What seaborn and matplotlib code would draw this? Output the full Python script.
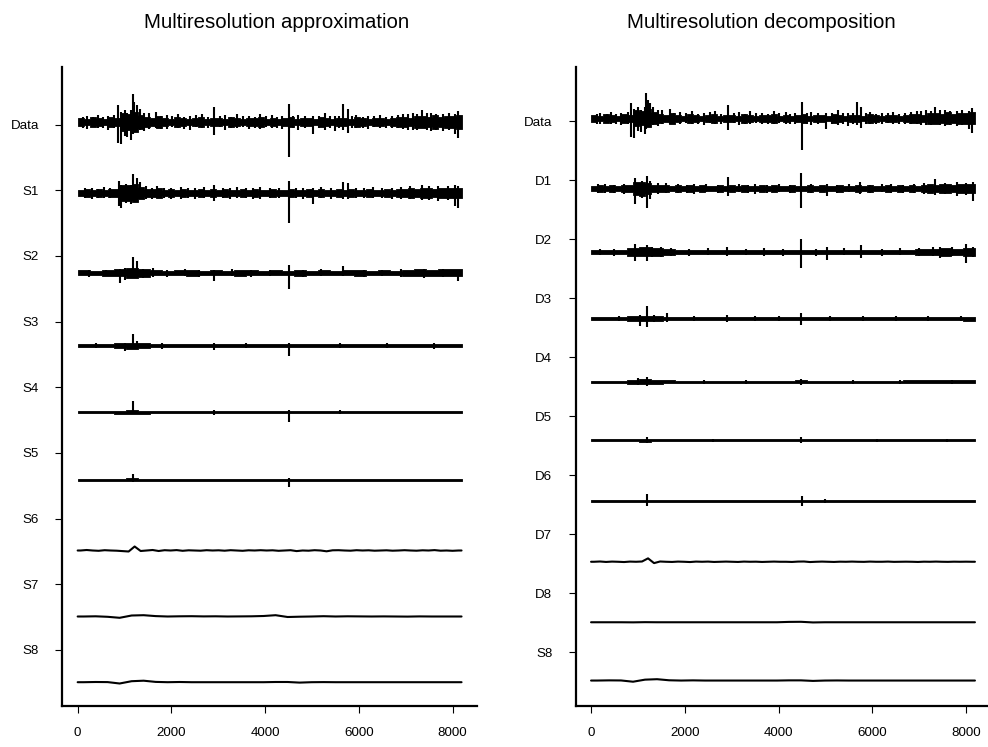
import numpy as np
import matplotlib
matplotlib.use("Agg")
import matplotlib.pyplot as plt
import seaborn as sns
import pandas as pd

sns.set_theme(style="ticks")
plt.rcParams['font.family'] = ['Liberation Sans', 'DejaVu Sans']

N_SAMPLES = 8192
X_TICKS = [0, 2000, 4000, 6000, 8000]

# ---- per-block half-widths of each noisy level (signal units) ----
DATA_HW = [4, 3, 5, 4, 3, 5, 4, 9, 8, 10, 7, 5, 4, 6,
           4, 3, 5, 4, 3, 4, 5, 3, 4, 4, 3, 5, 4, 3, 4, 4, 5, 3, 4, 3,
           4, 5, 3, 4, 4, 3, 5, 4, 3, 4, 4, 3, 5, 4, 3, 4, 4, 3, 4, 5,
           5, 4, 6, 6, 5, 7, 5, 6, 6, 7]
S1_HW = [3, 4, 3, 4, 3, 4, 4, 8, 8, 9, 6, 4, 4, 5,
         3, 4, 3, 4, 3, 3, 4, 3, 4, 3, 4, 3, 3, 4, 3, 4, 3, 3, 4, 3,
         3, 4, 3, 3, 4, 3, 4, 3, 3, 4, 3, 4, 3, 3, 4, 3, 3, 4, 3, 4,
         4, 5, 4, 5, 5, 4, 5, 5, 5, 5]
S2_HW = [2.5, 2, 3, 3.5, 5, 4, 2.5, 2, 2.5, 3, 2, 2.5, 2, 3, 2.5, 2,
         2.5, 2, 3, 2, 2.5, 2, 2.5, 3, 2, 2.5, 2, 3, 3.5, 3, 3.5, 3.5]
S3_HW = [1.5, 1.8, 1.5, 2.2, 3, 2.2, 1.5, 1.8, 1.5, 1.5, 1.8, 1.5, 1.8, 1.5, 1.5, 1.8,
         1.5, 1.8, 1.5, 1.5, 1.8, 1.5, 1.5, 1.8, 1.5, 1.8, 1.5, 1.5, 1.8, 1.5, 1.8, 1.8]
S4_HW = [1.1, 1.2, 1.1, 1.4, 2.0, 1.4, 1.1, 1.2, 1.1, 1.1, 1.2, 1.1, 1.2, 1.1, 1.1, 1.2,
         1.1, 1.2, 1.1, 1.1, 1.2, 1.1, 1.1, 1.2, 1.1, 1.2, 1.1, 1.1, 1.2, 1.1, 1.2, 1.2]
S5_HW = [0.9, 1.0, 0.9, 1.1, 1.5, 1.1, 0.9, 1.0, 0.9, 0.9, 1.0, 0.9, 1.0, 0.9, 0.9, 1.0,
         0.9, 1.1, 0.9, 0.9, 1.0, 0.9, 0.9, 1.0, 0.9, 1.0, 0.9, 0.9, 1.0, 0.9, 1.0, 1.0]
D1_HW = [3, 4, 3, 4, 3, 4, 4, 7, 8, 6, 4, 4, 4,
         3, 4, 3, 4, 3, 4, 3, 3, 4, 3, 4, 3, 4, 3, 3, 4, 3, 4, 3, 3,
         4, 3, 3, 4, 3, 4, 3, 3, 4, 3, 3, 4, 3, 4, 3, 3, 4, 3, 4, 3, 4, 3,
         4, 5, 4, 5, 5, 4, 5, 5, 5]
D2_HW = [2.5, 2, 2.5, 4, 5, 4, 3.5, 2.5, 2, 2.5, 2, 2.5, 2, 2.5, 2, 2.5,
         2, 2.5, 2, 2.5, 2, 2.5, 2, 2.5, 2, 2.5, 2, 3, 3.5, 4, 3.5, 4]
D3_HW = [1.5, 1.7, 1.5, 2.5, 3, 2.5, 2, 1.5, 1.7, 1.5, 1.5, 1.7, 1.5, 1.5, 1.7, 1.5,
         1.7, 1.5, 1.5, 1.7, 1.5, 1.5, 1.7, 1.5, 1.7, 1.5, 1.5, 2, 2, 2, 2, 2.2]
D4_HW = [1.2, 1.3, 1.2, 2.2, 2.6, 2.2, 1.5, 1.2, 1.3, 1.2, 1.2, 1.3, 1.2, 1.2, 1.3, 1.2,
         1.3, 1.5, 1.2, 1.3, 1.2, 1.2, 1.3, 1.2, 1.3, 1.2, 1.4, 1.4, 1.4, 1.5, 1.6, 1.6]
D5_HW = [0.9, 1.0, 0.9, 1.1, 1.6, 1.1, 0.9, 1.0, 0.9, 0.9, 1.0, 0.9, 1.0, 0.9, 0.9, 1.0,
         0.9, 1.3, 0.9, 0.9, 1.0, 0.9, 0.9, 1.0, 0.9, 1.0, 0.9, 0.9, 1.0, 1.0, 1.0, 1.0]
D6_HW = [0.7, 0.7, 0.7, 0.7, 1.0, 0.7, 0.7, 0.7, 0.7, 0.7, 0.7, 0.7, 0.7, 0.7, 0.7, 0.7,
         0.7, 0.8, 0.7, 0.7, 0.7, 0.7, 0.7, 0.7, 0.7, 0.7, 0.7, 0.7, 0.7, 0.7, 0.7, 0.7]

# ---- isolated excursions: (sample, height above, depth below) ----
DATA_SPIKES = [(120, 5, 6), (200, 6, 7), (330, 5, 5), (430, 7, 6), (540, 5, 6),
               (640, 6, 8), (780, 7, 6),
               (855, 17, 21), (927, 10, 22), (1000, 12, 14), (1060, 9, 15),
               (1141, 12, 18), (1175, 28, 12), (1210, 20, 10), (1260, 17, 9),
               (1330, 13, 8), (1420, 9, 9), (1520, 9, 7), (1675, 10, 6),
               (1780, 6, 7), (1900, 7, 7), (2020, 6, 5), (2150, 8, 6),
               (2280, 5, 7), (2400, 6, 8), (2530, 7, 5), (2650, 8, 6),
               (2780, 5, 6), (2920, 15, 13), (3040, 6, 5), (3150, 7, 8),
               (3280, 5, 6), (3400, 8, 6), (3520, 6, 5), (3650, 6, 7),
               (3780, 5, 6), (3900, 8, 7), (4020, 6, 5), (4150, 7, 6),
               (4250, 5, 6), (4350, 6, 7), (4500, 18, 35), (4600, 6, 6),
               (4700, 7, 8), (4850, 6, 6), (5015, 6, 12), (5140, 6, 6),
               (5270, 9, 8), (5380, 6, 6), (5485, 6, 9), (5580, 6, 6),
               (5670, 18, 8), (5770, 13, 11), (5860, 6, 6), (5950, 7, 6),
               (6080, 5, 6), (6200, 6, 7), (6330, 6, 5), (6450, 7, 6),
               (6580, 5, 6), (6700, 6, 6), (6830, 7, 6), (6950, 8, 7),
               (7050, 8, 8), (7150, 9, 8), (7250, 8, 8), (7340, 12, 6),
               (7450, 9, 8), (7550, 9, 9), (7650, 8, 8), (7800, 8, 9),
               (7920, 9, 8), (8060, 8, 12), (8120, 11, 16)]
S1_SPIKES = [(150, 5, 5), (300, 5, 6), (440, 4, 5), (560, 6, 5), (700, 5, 5),
             (890, 12, 13), (927, 8, 15), (1030, 9, 10), (1141, 8, 11),
             (1175, 19, 8), (1260, 15, 7), (1330, 11, 6), (1450, 7, 6),
             (1580, 5, 6), (1700, 7, 5), (1850, 5, 5), (2000, 5, 6),
             (2200, 6, 6), (2350, 5, 5), (2500, 5, 6), (2700, 6, 5),
             (2920, 8, 8), (3100, 5, 5), (3250, 5, 6), (3400, 6, 5),
             (3600, 5, 5), (3750, 5, 6), (3900, 6, 6), (4100, 5, 5),
             (4300, 5, 5), (4500, 12, 30), (4650, 5, 5), (4800, 5, 6),
             (5015, 5, 11), (5200, 6, 5), (5400, 5, 6), (5670, 11, 6),
             (5770, 10, 6), (5950, 5, 5), (6100, 5, 5), (6300, 6, 5),
             (6500, 5, 5), (6700, 5, 6), (6900, 6, 6), (7100, 7, 6),
             (7350, 8, 7), (7500, 7, 7), (7700, 7, 8), (7900, 7, 7),
             (8060, 8, 13), (8120, 7, 15)]
S2_SPIKES = [(250, 3, 4), (600, 3, 3), (900, 4, 10), (1000, 5, 7),
             (1175, 16, 5), (1260, 12, 4), (1400, 4, 5), (1600, 5, 4),
             (1900, 3, 4), (2300, 4, 3), (2600, 3, 4), (2920, 3, 8),
             (3300, 4, 3), (3700, 3, 4), (4100, 3, 3), (4500, 8, 16),
             (4800, 3, 4), (5200, 4, 3), (5670, 7, 3), (6100, 3, 4),
             (6500, 3, 3), (6900, 4, 4), (7400, 4, 5), (7800, 4, 4),
             (8120, 3, 8)]
S3_SPIKES = [(400, 2.5, 2.5), (1000, 3, 5), (1175, 12, 3), (1260, 5, 3),
             (1800, 2.5, 3), (2920, 3, 4), (3600, 2.5, 2.5), (4500, 3, 10),
             (5600, 3, 2.5), (6600, 2.5, 2.5), (7600, 3, 3)]
S4_SPIKES = [(1175, 11, 2), (2900, 2, 2.5), (4500, 2, 10), (5600, 2.5, 2)]
S5_SPIKES = [(1175, 6, 2), (4500, 2, 7)]
D1_SPIKES = [(150, 5, 5), (300, 5, 5), (500, 4, 5), (700, 5, 6),
             (938, 12, 17), (1080, 9, 10), (1187, 14, 21), (1260, 9, 11),
             (1420, 6, 6), (1600, 6, 5), (1850, 5, 5), (2050, 4, 5),
             (2200, 5, 6), (2450, 5, 4), (2700, 4, 5), (2920, 13, 8),
             (3150, 5, 4), (3350, 4, 5), (3500, 5, 6), (3750, 4, 5),
             (4000, 5, 4), (4250, 4, 5), (4490, 18, 21), (4700, 5, 5),
             (5025, 5, 8), (5250, 4, 5), (5500, 5, 4), (5735, 8, 6),
             (5950, 4, 5), (6200, 5, 4), (6400, 5, 5), (6650, 4, 5),
             (6900, 5, 5), (7100, 6, 6), (7335, 11, 7), (7550, 6, 6),
             (7800, 7, 8), (8000, 6, 7), (8150, 8, 14)]
D2_SPIKES = [(200, 3, 3), (500, 3, 4), (938, 9, 10), (1187, 8, 10),
             (1300, 5, 6), (1500, 6, 6), (1700, 4, 4), (2100, 3, 4),
             (2500, 4, 3), (2900, 5, 5), (3300, 3, 3), (3700, 4, 4),
             (4100, 3, 4), (4490, 14, 18), (4800, 3, 4), (5025, 5, 9),
             (5400, 4, 3), (5770, 8, 7), (6200, 3, 4), (6600, 4, 3),
             (7000, 4, 4), (7300, 5, 5), (7450, 5, 7), (7700, 5, 5),
             (8010, 9, 12), (8150, 5, 6)]
D3_SPIKES = [(600, 2.5, 2.5), (1045, 4, 8), (1187, 14, 9), (1350, 4, 4),
             (1613, 6, 4), (2200, 2.5, 3), (2900, 4, 4), (3500, 3, 2.5),
             (4000, 2.5, 3), (4490, 6, 7), (5100, 3, 2.5), (5800, 2.5, 2.5),
             (6500, 3, 3), (7200, 3, 2.5), (7900, 3, 3)]
D4_SPIKES = [(1000, 4, 4), (1200, 5.5, 4.5), (2400, 2, 2), (3300, 2, 2),
             (4490, 3.3, 3.3), (5600, 2, 2), (6600, 2, 2), (7700, 2.2, 2.2)]
D5_SPIKES = [(1200, 3.3, 3.3), (2600, 1.6, 1.6), (4490, 3.5, 2.5),
             (6100, 1.6, 1.6), (7600, 1.8, 1.8)]
D6_SPIKES = [(1200, 7.4, 5.5), (4510, 5.5, 5.5), (5000, 2, 2)]

# ---- smooth levels, sampled on a regular grid (signal units) ----
S6_LINE = [0, 0.5, 0, -0.3, 0.3, 0, -0.2, -0.6, -1.0, 4.0, -0.5, 0, 0.5, -0.5, 0.3, 0,
           0.4, -0.3, 0.2, 0, -0.2, 0.3, 0, 0.2, -0.2, 0.3, 0, -0.3, 0.2, 0, 0.3, 0,
           0.2, -0.3, 0, 0.3, -0.6, 0, -0.2, 0.3, 0, -0.8, 0.2, 0.3, 0, -0.2, 0.3, 0,
           0.2, -0.2, 0, 0.2, -0.2, 0, 0.3, 0, -0.2, 0.2, 0, 0.4, -0.2, 0, -0.3, 0]
S7_LINE = [0, 0.2, -0.3, -1.3, 1.0, 1.3, 0.4, 0, 0.2, 0.3, 0.1, 0.2, 0, 0.1, 0.2, 0.5,
           1.3, -0.5, -0.2, 0, 0.3, 0, 0.2, 0.1, 0, 0.1, 0, -0.1, 0.1, 0, 0, 0]
S8_LINE = [0, 0.2, 0.1, -1.3, 1.0, 1.5, 0.3, 0, 0.2, 0, 0, 0, 0, 0, 0, 0,
           0.2, 0.2, -0.4, 0, 0.1, 0, 0, 0, 0, 0, 0, 0, 0, 0, 0, 0]
D7_LINE = [0, 0.3, -0.2, 0.2, 0, -0.3, 0.2, 0, 0.3, 3.8, -1.5, 0.3, 0, -0.2, 0.2, 0,
           -0.3, 0.2, 0, 0.2, -0.2, 0, 0.2, 0, -0.2, 0.2, 0, 0.1, -0.2, 0, 0.2, 0,
           0, -0.2, 0.2, 0.3, -0.3, 0, 0.2, 0, -0.2, 0.1, 0, 0.2, 0, -0.1, 0.2, 0,
           0, 0.2, -0.1, 0, 0.1, 0, -0.2, 0.1, 0, 0.2, 0, -0.1, 0.1, 0, 0.1, 0]
D8_LINE = [0, 0, 0, -0.1, 0.1, 0, 0, 0, 0, 0, 0, 0, 0, 0, 0, 0,
           0.4, 0.5, -0.2, 0, 0, 0, 0, 0, 0, 0, 0, 0, 0, 0, 0, 0]

LEFT_LABELS = ["Data", "S1", "S2", "S3", "S4", "S5", "S6", "S7", "S8"]
RIGHT_LABELS = ["Data", "D1", "D2", "D3", "D4", "D5", "D6", "D7", "D8", "S8"]
TITLES = ["Multiresolution approximation", "Multiresolution decomposition"]

LEFT_ROWS = [("band", DATA_HW, DATA_SPIKES), ("band", S1_HW, S1_SPIKES),
             ("band", S2_HW, S2_SPIKES), ("band", S3_HW, S3_SPIKES),
             ("band", S4_HW, S4_SPIKES), ("band", S5_HW, S5_SPIKES),
             ("line", S6_LINE, None), ("line", S7_LINE, None),
             ("line", S8_LINE, None)]
RIGHT_ROWS = [("band", DATA_HW, DATA_SPIKES), ("band", D1_HW, D1_SPIKES),
              ("band", D2_HW, D2_SPIKES), ("band", D3_HW, D3_SPIKES),
              ("band", D4_HW, D4_SPIKES), ("band", D5_HW, D5_SPIKES),
              ("band", D6_HW, D6_SPIKES), ("line", D7_LINE, None),
              ("line", D8_LINE, None), ("line", S8_LINE, None)]

# stacking positions of the levels inside each panel
LEFT_BASE = [583.3, 512.7, 432.7, 360.0, 293.3, 225.7, 155.0, 89.0, 23.3]
RIGHT_BASE = [588.4, 517.7, 454.4, 387.7, 324.4, 265.7, 205.0, 144.0, 83.4, 25.0]


def draw_band(ax, base, hw, spikes, scale):
    n = len(hw)
    edges = np.linspace(0, N_SAMPLES, n + 1)
    x = np.repeat(edges, 2)[1:-1]
    h = np.repeat(np.asarray(hw, float), 2) * scale
    ax.fill_between(x, base - h, base + h, facecolor="black",
                    edgecolor="black", lw=0.6)
    for sx, up, dn in spikes:
        ax.vlines(sx, base - dn * scale, base + up * scale,
                  color="black", lw=1.5)


def draw_line(ax, base, vals, scale):
    n = len(vals)
    x = (np.arange(n) + 0.5) * N_SAMPLES / n
    x = np.concatenate([[0], x, [N_SAMPLES]])
    v = np.concatenate([[vals[0]], vals, [vals[-1]]])
    df = pd.DataFrame({"t": x, "y": base + np.asarray(v, float) * scale})
    sns.lineplot(data=df, x="t", y="y", ax=ax, color="black", lw=1.5,
                 estimator=None, sort=False)


def panel(ax, rows, bases, labels, scale, ytop, tick_lo, tick_hi):
    for (kind, vals, spikes), base in zip(rows, bases):
        if kind == "band":
            draw_band(ax, base, vals, spikes, scale)
        else:
            draw_line(ax, base, vals, scale)
    ax.set_xlim(-0.04 * N_SAMPLES, 1.04 * N_SAMPLES)
    ax.set_ylim(0, ytop)
    ax.set_xticks(X_TICKS)
    ax.set_xticklabels([str(t) for t in X_TICKS])
    ticks = np.linspace(tick_hi, tick_lo, len(labels))
    ax.set_yticks(ticks)
    ax.set_yticklabels(labels)
    ax.set_xlabel("")
    ax.set_ylabel("")
    sns.despine(ax=ax)
    for s in ("left", "bottom"):
        ax.spines[s].set_linewidth(1.6)
        ax.spines[s].set_color("black")
    ax.tick_params(axis="both", length=4.8, width=0.8, colors="black",
                   labelsize=9.6)
    ax.tick_params(axis="y", pad=12)
    ax.tick_params(axis="x", pad=11)
    ax.set_facecolor("white")


fig = plt.figure(figsize=(9.88, 7.47), dpi=100)
W, H = 988.0, 747.0
ax_w = 414.6 / W
ax_b = (H - 705.5) / H
ax_h = (705.5 - 67.0) / H
ax1 = fig.add_axes([62.3 / W, ax_b, ax_w, ax_h])
ax2 = fig.add_axes([575.7 / W, ax_b, ax_w, ax_h])

panel(ax1, LEFT_ROWS, LEFT_BASE, LEFT_LABELS, 1.0, 638.5, 55.7, 580.9)
panel(ax2, RIGHT_ROWS, RIGHT_BASE, RIGHT_LABELS, 0.9, 639.7, 53.4, 585.3)

fig.text(277 / W, 1 - 22 / H, TITLES[0], ha="center", va="center",
         fontsize=14.7, color="black")
fig.text(761 / W, 1 - 22 / H, TITLES[1], ha="center", va="center",
         fontsize=14.7, color="black")

fig.savefig("out.png", dpi=100, facecolor="white")
